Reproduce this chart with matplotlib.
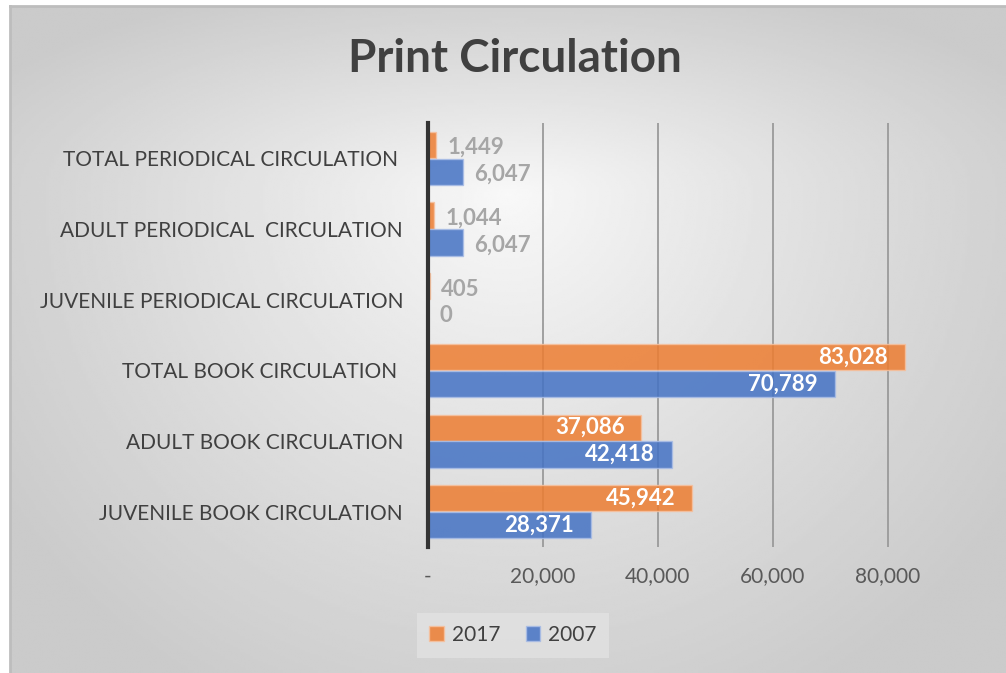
import numpy as np
import matplotlib.pyplot as plt
from matplotlib.patches import Patch

plt.rcParams['font.family'] = ['Lato', 'DejaVu Sans']

categories = ['JUVENILE BOOK CIRCULATION', 'ADULT BOOK CIRCULATION',
              'TOTAL BOOK CIRCULATION ', 'JUVENILE PERIODICAL CIRCULATION',
              'ADULT PERIODICAL  CIRCULATION', 'TOTAL PERIODICAL CIRCULATION ']
vals_2017 = [45942, 37086, 83028, 405, 1044, 1449]
vals_2007 = [28371, 42418, 70789, 0, 6047, 6047]
xticks = [0, 20000, 40000, 60000, 80000]
xticklabels = ['-', '20,000', '40,000', '60,000', '80,000']

orange = '#ED7D31'
blue = '#4472C4'

W, H = 1006, 673
fig = plt.figure(figsize=(W / 100, H / 100), dpi=100, facecolor='white')

# background gradient (chart area offset from the image edge)
bg = fig.add_axes([10 / W, 0, 1 - 10 / W, (H - 6) / H], zorder=-2)
gx, gy = np.meshgrid(np.linspace(0, 1, 400), np.linspace(0, 1, 300))
dx = np.abs(gx - 0.5) / 0.5
dy = np.where(gy > 0.72, (gy - 0.72) / 0.28, (0.72 - gy) / 0.72)
r = np.clip(np.sqrt(dx**2 + dy**2) / 1.2, 0, 1)
val = 0.975 - 0.18 * r**0.9
bg.imshow(val, cmap='gray', vmin=0, vmax=1, origin='lower', aspect='auto',
          extent=[0, 1, 0, 1], interpolation='bilinear')
bg.set_xlim(0, 1)
bg.set_ylim(0, 1)
bg.axis('off')
fig.add_artist(plt.Line2D([9.5 / W, 1], [(H - 6) / H] * 2, color='#bdbdbd', lw=2))
fig.add_artist(plt.Line2D([9.5 / W] * 2, [0, (H - 6) / H], color='#bdbdbd', lw=2))

ax = fig.add_axes([428 / W, (H - 547) / H, 517 / W, 424 / H])
ax.set_facecolor('none')

y = np.arange(len(categories))
h = 0.37
ax.barh(y + 0.19, vals_2017, height=h, color=orange, alpha=0.85, edgecolor='#f6c19f',
        lw=1, label='2017', zorder=3)
ax.barh(y - 0.19, vals_2007, height=h, color=blue, alpha=0.85, edgecolor='#a9bde6',
        lw=1, label='2007', zorder=3)

for vals, off in ((vals_2017, 0.19), (vals_2007, -0.19)):
    for i, v in enumerate(vals):
        txt = f'{v:,}'
        if v > 20000:
            ax.annotate(txt, (v, i + off), xytext=(-12, 0), textcoords='offset points',
                        ha='right', va='center', color='white', fontsize=16,
                        fontweight='bold', zorder=4)
        else:
            ax.annotate(txt, (v, i + off), xytext=(8, -2), textcoords='offset points',
                        ha='left', va='center', color='#a6a6a6', fontsize=16,
                        fontweight='bold', zorder=4)

ax.set_xlim(0, 90000)
ax.set_ylim(-0.5, len(categories) - 0.5)
ax.set_xticks(xticks)
ax.set_xticklabels(xticklabels, fontsize=15, color='#595959')
ax.set_yticks(y)
ax.set_yticklabels(categories, fontsize=15, color='#404040')
ax.tick_params(axis='both', length=0)
ax.tick_params(axis='y', pad=18)
ax.tick_params(axis='x', pad=14)
ax.xaxis.grid(True, color='#9a9a9a', lw=1.3)
for xt in ax.get_xgridlines()[:1]:
    xt.set_visible(False)
for s in ['top', 'right', 'bottom']:
    ax.spines[s].set_visible(False)
ax.spines['left'].set_color('#333333')
ax.spines['left'].set_linewidth(3)
ax.spines['left'].set_zorder(5)

fig.text(515 / W, 1 - 59 / H, 'Print Circulation', ha='center', va='center',
         fontsize=33, fontweight='bold', color='#404040')

handles = [Patch(facecolor=orange, alpha=0.85, edgecolor='#f6c19f'),
           Patch(facecolor=blue, alpha=0.85, edgecolor='#a9bde6')]
leg = fig.legend(handles, ['2017', '2007'], loc='center', bbox_to_anchor=(513 / W, 1 - 635 / H),
                 ncol=2, fontsize=15, frameon=True, handlelength=0.7, handleheight=0.7,
                 handletextpad=0.4, columnspacing=1.2, borderpad=0.6, fancybox=False)
leg.get_frame().set_facecolor('#e2e2e2')
leg.get_frame().set_edgecolor('none')
leg.get_frame().set_alpha(0.8)
for t in leg.get_texts():
    t.set_color('#404040')

fig.savefig('out.png', dpi=100, facecolor='white')
